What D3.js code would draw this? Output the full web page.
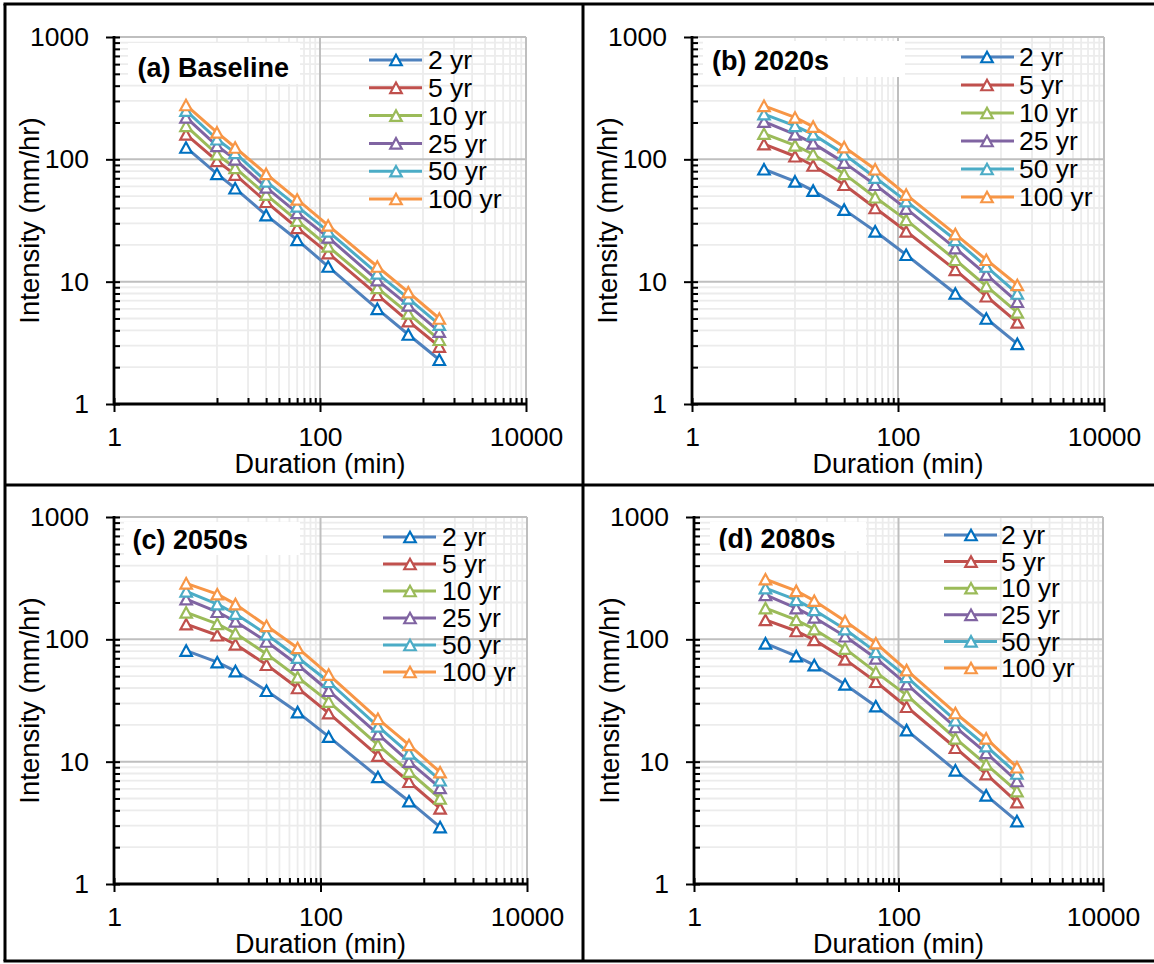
<!DOCTYPE html>
<html><head><meta charset="utf-8">
<script src="https://cdn.jsdelivr.net/npm/d3@7"></script>
<style>
body{margin:0;background:#fff}
text{font-family:"Liberation Sans",Arial,sans-serif;fill:#000}
</style>
</head><body>
<svg id="chart" width="1154" height="964"></svg>
<script>
// ---------- DATA ----------
const durations = [5, 10, 15, 30, 60, 120, 360, 720, 1440];
const returnPeriods = ["2 yr", "5 yr", "10 yr", "25 yr", "50 yr", "100 yr"];
const xTickValues = [1, 100, 10000];
const xTickLabels = ["1", "100", "10000"];
const yTickValues = [1, 10, 100, 1000];
const yTickLabels = ["1", "10", "100", "1000"];
const panelTitles = ["(a) Baseline", "(b) 2020s", "(c) 2050s", "(d) 2080s"];
const xAxisTitle = "Duration (min)";
const yAxisTitle = "Intensity (mm/hr)";

const baselineValues = [
  [125, 76, 58, 35, 22, 13.3, 6.0, 3.7, 2.3],
  [160, 97, 75, 45, 27.5, 17.1, 7.8, 4.75, 2.95],
  [188, 110, 85, 51.5, 31.5, 19.4, 8.9, 5.5, 3.35],
  [220, 129, 100, 59, 36.5, 23, 10.3, 6.4, 3.9],
  [250, 146, 113, 66, 41.3, 25.8, 11.7, 7.3, 4.45],
  [278, 166, 125, 76, 47, 28.8, 13.3, 8.2, 5.0]
];
const values2020s = [
  [83, 66, 55.5, 38.8, 25.8, 16.6, 8.0, 5.0, 3.1],
  [133, 106, 89, 62, 40, 25.8, 12.5, 7.6, 4.65],
  [162, 130, 110, 76, 49, 32, 15.1, 9.2, 5.6],
  [203, 160, 135, 94, 62, 39.5, 18.8, 11.4, 6.85],
  [234, 188, 160, 110, 71, 45.5, 22, 13.3, 8.0],
  [274, 220, 185, 126, 83, 51.5, 24.5, 15.1, 9.4]
];
const values2050s = [
  [81, 65, 55, 38, 25.4, 16, 7.5, 4.75, 2.92],
  [133, 108, 91, 62, 40, 24.9, 11.2, 6.85, 4.15],
  [166, 134, 112, 76, 49, 31, 13.7, 8.3, 5.0],
  [213, 168, 140, 96, 62, 38, 16.8, 10, 6.1],
  [247, 194, 162, 110, 71, 45, 19.4, 11.7, 7.05],
  [287, 234, 194, 129, 85, 51.5, 22.4, 13.7, 8.2]
];
const values2080s = [
  [92.7, 73, 61.6, 42.8, 28.4, 18.1, 8.5, 5.3, 3.27],
  [144, 117, 99, 68.6, 45, 28.1, 13, 7.9, 4.67],
  [180, 144, 121, 84, 54, 35, 15.5, 9.5, 5.75],
  [231, 180, 151, 106, 70, 43, 19.2, 11.8, 6.95],
  [262, 210, 174, 121, 79, 49.4, 21.8, 13.4, 8.0],
  [310, 249, 207, 141, 93, 56, 25, 15.5, 9.0]
];

// ---------- STYLE / LAYOUT ----------
const lineColors = ["#4F81BD", "#C0504D", "#9BBB59", "#8064A2", "#4BACC6", "#F79646"];
const markerColors = ["#0070C0", "#C0504D", "#9BBB59", "#8064A2", "#4BACC6", "#F79646"];

const panels = [
  {title: panelTitles[0], values: baselineValues, x0: 114, x1: 526, y0: 37, y1: 404,
   tx: 137.5, ty: 77, box: [128, 43, 300, 84],
   leg: {lx0: 369, lx1: 422, mx: 396, tx: 428, y: 60, dy: 27.8}},
  {title: panelTitles[1], values: values2020s, x0: 692, x1: 1104, y0: 37, y1: 404,
   tx: 712, ty: 70, box: [703, 41, 905, 77],
   leg: {lx0: 961, lx1: 1014, mx: 987, tx: 1019, y: 57, dy: 28}},
  {title: panelTitles[2], values: values2050s, x0: 114, x1: 527, y0: 517, y1: 884,
   tx: 132.5, ty: 549, box: [124, 522, 300, 555],
   leg: {lx0: 383, lx1: 436, mx: 410, tx: 442, y: 537, dy: 27}},
  {title: panelTitles[3], values: values2080s, x0: 694, x1: 1103, y0: 517, y1: 884,
   tx: 718.5, ty: 548, box: [710, 522, 866, 551],
   leg: {lx0: 944, lx1: 997, mx: 971, tx: 1001, y: 535, dy: 26.6}}
];

const svg = d3.select("#chart");
svg.append("rect").attr("width", 1154).attr("height", 964).attr("fill", "#fff");

const triangle = {
  draw(ctx) {
    const w = 11.5, h = 10.5;
    ctx.moveTo(0, -h / 2);
    ctx.lineTo(w / 2, h / 2);
    ctx.lineTo(-w / 2, h / 2);
    ctx.closePath();
  }
};
const sym = d3.symbol().type(triangle);

const minorX = [];
[10, 1000].forEach(b => { for (let k = 1; k <= 9; k++) minorX.push(b * k); });
const minorY = [];
[1, 10, 100].forEach(b => { for (let k = 2; k <= 9; k++) minorY.push(b * k); });
const majorX = [100, 10000];
const majorY = [10, 100, 1000];

panels.forEach((p, pi) => {
  const x = d3.scaleLog().domain([1, 10000]).range([p.x0, p.x1]);
  const y = d3.scaleLog().domain([1, 1000]).range([p.y1, p.y0]);
  const g = svg.append("g");

  // minor grid
  g.selectAll(".mgx").data(minorX.filter(v => v !== 10000 && v !== 100)).join("line")
    .attr("x1", d => x(d)).attr("x2", d => x(d)).attr("y1", p.y0).attr("y2", p.y1)
    .attr("stroke", "#ececec").attr("stroke-width", 1.8);
  g.selectAll(".mgy").data(minorY).join("line")
    .attr("y1", d => y(d)).attr("y2", d => y(d)).attr("x1", p.x0).attr("x2", p.x1)
    .attr("stroke", "#ececec").attr("stroke-width", 1.8);
  // major grid
  g.selectAll(".Mgx").data(majorX).join("line")
    .attr("x1", d => x(d)).attr("x2", d => x(d)).attr("y1", p.y0).attr("y2", p.y1)
    .attr("stroke", "#bfbfbf").attr("stroke-width", 2);
  g.selectAll(".Mgy").data(majorY).join("line")
    .attr("y1", d => y(d)).attr("y2", d => y(d)).attr("x1", p.x0).attr("x2", p.x1)
    .attr("stroke", "#bfbfbf").attr("stroke-width", 2);

  // title box (white, hides grid) with clipped text
  const clipId = "tclip" + pi;
  svg.append("clipPath").attr("id", clipId).append("rect")
    .attr("x", p.box[0]).attr("y", p.box[1]).attr("width", p.box[2] - p.box[0]).attr("height", p.box[3] - p.box[1]);
  g.append("rect").attr("x", p.box[0]).attr("y", p.box[1])
    .attr("width", p.box[2] - p.box[0]).attr("height", p.box[3] - p.box[1]).attr("fill", "#fff");
  g.append("text").attr("x", p.tx).attr("y", p.ty).attr("clip-path", `url(#${clipId})`)
    .attr("font-size", 27).attr("font-weight", "bold").text(p.title);

  // axes: major ticks (outside) with labels
  const xAxis = d3.axisBottom(x).tickValues(xTickValues).tickFormat((d, i) => xTickLabels[i])
    .tickSizeInner(8).tickSizeOuter(0).tickPadding(15);
  const gx = g.append("g").attr("transform", `translate(0,${p.y1})`).call(xAxis);
  const yAxis = d3.axisLeft(y).tickValues(yTickValues).tickFormat((d, i) => yTickLabels[i])
    .tickSizeInner(8).tickSizeOuter(0).tickPadding(17);
  const gy = g.append("g").attr("transform", `translate(${p.x0},0)`).call(yAxis);
  [gx, gy].forEach(a => {
    a.select(".domain").remove();
    a.selectAll("line").attr("stroke", "#000").attr("stroke-width", 2);
    a.selectAll("text").attr("font-size", 26.5).attr("fill", "#000")
      .style("font-family", '"Liberation Sans", Arial, sans-serif');
  });
  // inside ticks (minor + major)
  const xIn = d3.axisBottom(x).tickValues(minorX.concat(xTickValues)).tickFormat("").tickSizeInner(-6).tickSizeOuter(0);
  const gxi = g.append("g").attr("transform", `translate(0,${p.y1})`).call(xIn);
  const yIn = d3.axisLeft(y).tickValues(minorY.concat(yTickValues)).tickFormat("").tickSizeInner(-6).tickSizeOuter(0);
  const gyi = g.append("g").attr("transform", `translate(${p.x0},0)`).call(yIn);
  [gxi, gyi].forEach(a => {
    a.select(".domain").remove();
    a.selectAll("line").attr("stroke", "#000").attr("stroke-width", 2);
  });
  // axis lines
  g.append("line").attr("x1", p.x0).attr("x2", p.x1).attr("y1", p.y1).attr("y2", p.y1)
    .attr("stroke", "#000").attr("stroke-width", 2.8);
  g.append("line").attr("x1", p.x0).attr("x2", p.x0).attr("y1", p.y0 - 1).attr("y2", p.y1 + 1.4)
    .attr("stroke", "#000").attr("stroke-width", 2.8);

  // axis titles
  g.append("text").attr("x", (p.x0 + p.x1) / 2).attr("y", p.y1 + 68.5)
    .attr("text-anchor", "middle").attr("font-size", 27).text(xAxisTitle);
  g.append("text").attr("transform", `translate(${p.x0 - 75},${(p.y0 + p.y1) / 2}) rotate(-90)`)
    .attr("text-anchor", "middle").attr("font-size", 27.5).text(yAxisTitle);

  // series
  const line = d3.line().x((d, i) => x(durations[i])).y(d => y(d));
  p.values.forEach((vals, si) => {
    g.append("path").datum(vals).attr("d", line).attr("fill", "none")
      .attr("stroke", lineColors[si]).attr("stroke-width", 3).attr("stroke-linejoin", "round");
    g.selectAll(null).data(vals).join("path")
      .attr("transform", (d, i) => `translate(${x(durations[i])},${y(d)})`)
      .attr("d", sym()).attr("fill", "#fff").attr("stroke", markerColors[si]).attr("stroke-width", 2.2);
  });

  // legend
  const L = p.leg;
  returnPeriods.forEach((name, si) => {
    const ly = L.y + si * L.dy;
    g.append("line").attr("x1", L.lx0).attr("x2", L.lx1).attr("y1", ly).attr("y2", ly)
      .attr("stroke", lineColors[si]).attr("stroke-width", 3);
    g.append("path").attr("transform", `translate(${L.mx},${ly})`).attr("d", sym())
      .attr("fill", "#fff").attr("stroke", markerColors[si]).attr("stroke-width", 2.2);
    g.append("text").attr("x", L.tx).attr("y", ly).attr("dy", "0.35em")
      .attr("font-size", 26.5).text(name);
  });
});

// figure frame
const frame = [
  [5, 4, 5, 961], [3.5, 4, 1154, 4], [3.5, 961, 1154, 961], [583, 4, 583, 961], [5, 485, 1154, 485]
];
svg.selectAll(".frame").data(frame).join("line")
  .attr("x1", d => d[0]).attr("y1", d => d[1]).attr("x2", d => d[2]).attr("y2", d => d[3])
  .attr("stroke", "#000").attr("stroke-width", 3);
</script>
</body></html>
